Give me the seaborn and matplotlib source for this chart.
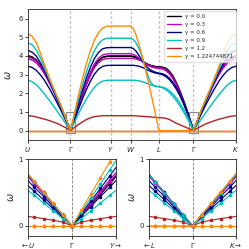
import numpy as np
import pandas as pd
import seaborn as sns
import matplotlib
matplotlib.use("Agg")
import matplotlib.pyplot as plt
from matplotlib.patches import Rectangle
from matplotlib.lines import Line2D

# gamma values and colours
gammas = ["0.0", "0.3", "0.6", "0.9", "1.2", "1.224744871"]
colors = ["black", "m", "navy", "c", "firebrick", "darkorange"]
# two bands per gamma: (a, b)
band_gamma = [0, 0, 1, 1, 2, 2, 3, 3, 4, 4, 5, 5]

path_labels = ["$U$", r"$\Gamma$", "$Y$", "$W$", "$L$", r"$\Gamma$", "$K$"]
seg_len = [1.061, 1.0, 0.5, 0.707, 0.866, 1.061]

# omega at t = 0, 0.1, ..., 1 along each segment (one row per band)
seg_UG = [
    [4.02, 3.95, 3.78, 3.48, 3.12, 2.68, 2.2, 1.7, 1.16, 0.58, 0],
    [3.97, 3.9, 3.74, 3.45, 3.08, 2.65, 2.17, 1.68, 1.15, 0.58, 0],
    [3.95, 3.88, 3.72, 3.43, 3.06, 2.63, 2.16, 1.66, 1.14, 0.57, 0],
    [3.85, 3.78, 3.62, 3.35, 2.99, 2.57, 2.1, 1.62, 1.11, 0.56, 0],
    [4.3, 4.2, 3.98, 3.6, 3.15, 2.65, 2.15, 1.62, 1.1, 0.55, 0],
    [3.45, 3.38, 3.22, 2.97, 2.65, 2.27, 1.86, 1.43, 0.98, 0.49, 0],
    [4.7, 4.6, 4.3, 3.85, 3.3, 2.75, 2.22, 1.7, 1.17, 0.59, 0],
    [2.7, 2.62, 2.45, 2.2, 1.93, 1.63, 1.32, 1.0, 0.68, 0.34, 0],
    [0.8, 0.78, 0.73, 0.67, 0.61, 0.54, 0.46, 0.37, 0.26, 0.14, 0],
    [0, 0, 0, 0, 0, 0, 0, 0, 0, 0, 0],
    [5.2, 5.05, 4.7, 4.1, 3.45, 2.85, 2.3, 1.75, 1.2, 0.6, 0],
    [0, 0, 0, 0, 0, 0, 0, 0, 0, 0, 0],
]
seg_GY = [
    [0, 0.65, 1.3, 1.93, 2.52, 3.04, 3.47, 3.76, 3.93, 3.99, 4.0],
    [0, 0.64, 1.28, 1.91, 2.5, 3.02, 3.45, 3.74, 3.91, 3.97, 3.98],
    [0, 0.68, 1.36, 2.02, 2.62, 3.15, 3.58, 3.88, 4.05, 4.11, 4.12],
    [0, 0.67, 1.32, 1.93, 2.49, 2.98, 3.38, 3.65, 3.8, 3.86, 3.87],
    [0, 0.74, 1.47, 2.18, 2.83, 3.4, 3.87, 4.19, 4.38, 4.44, 4.45],
    [0, 0.58, 1.15, 1.7, 2.21, 2.66, 3.03, 3.29, 3.44, 3.49, 3.5],
    [0, 0.83, 1.65, 2.45, 3.15, 3.78, 4.3, 4.65, 4.86, 4.94, 4.95],
    [0, 0.46, 0.9, 1.32, 1.7, 2.04, 2.33, 2.53, 2.65, 2.69, 2.7],
    [0, 0.17, 0.33, 0.47, 0.6, 0.69, 0.75, 0.78, 0.8, 0.8, 0.8],
    [0, 0, 0, 0, 0, 0, 0, 0, 0, 0, 0],
    [0, 0.95, 1.9, 2.8, 3.6, 4.3, 4.85, 5.25, 5.48, 5.58, 5.6],
    [0, 0, 0, 0, 0, 0, 0, 0, 0, 0, 0],
]
seg_WL = [
    [4.0, 3.98, 3.93, 3.85, 3.75, 3.65, 3.56, 3.5, 3.46, 3.43, 3.42],
    [3.98, 3.96, 3.91, 3.83, 3.74, 3.64, 3.55, 3.49, 3.45, 3.42, 3.41],
    [4.12, 4.08, 4.0, 3.88, 3.75, 3.62, 3.52, 3.45, 3.41, 3.39, 3.38],
    [3.87, 3.86, 3.83, 3.78, 3.72, 3.63, 3.52, 3.44, 3.38, 3.35, 3.33],
    [4.45, 4.4, 4.25, 4.02, 3.78, 3.55, 3.38, 3.26, 3.18, 3.12, 3.08],
    [3.5, 3.5, 3.48, 3.45, 3.4, 3.33, 3.25, 3.18, 3.12, 3.08, 3.05],
    [4.95, 4.88, 4.68, 4.4, 4.0, 3.5, 3.0, 2.6, 2.45, 2.39, 2.35],
    [2.7, 2.7, 2.69, 2.67, 2.63, 2.58, 2.52, 2.46, 2.41, 2.37, 2.35],
    [0.8, 0.8, 0.79, 0.78, 0.77, 0.76, 0.75, 0.74, 0.72, 0.71, 0.7],
    [0, 0, 0, 0, 0, 0, 0, 0, 0, 0, 0],
    [5.6, 5.45, 5.1, 4.6, 4.05, 3.45, 2.8, 2.15, 1.45, 0.73, 0],
    [0, 0, 0, 0, 0, 0, 0, 0, 0, 0, 0],
]
seg_LG = [
    [3.42, 3.4, 3.35, 3.2, 2.95, 2.6, 2.18, 1.7, 1.17, 0.6, 0],
    [3.41, 3.39, 3.31, 3.13, 2.85, 2.5, 2.08, 1.62, 1.12, 0.57, 0],
    [3.38, 3.35, 3.27, 3.1, 2.85, 2.5, 2.08, 1.62, 1.12, 0.57, 0],
    [3.33, 3.3, 3.22, 3.05, 2.8, 2.46, 2.05, 1.6, 1.1, 0.56, 0],
    [3.08, 3.05, 2.97, 2.82, 2.6, 2.32, 1.98, 1.58, 1.1, 0.56, 0],
    [3.05, 3.0, 2.9, 2.74, 2.52, 2.24, 1.9, 1.5, 1.03, 0.5, 0],
    [2.35, 2.33, 2.27, 2.15, 1.98, 1.76, 1.5, 1.2, 0.86, 0.46, 0],
    [2.35, 2.3, 2.2, 2.05, 1.85, 1.62, 1.35, 1.05, 0.72, 0.37, 0],
    [0.7, 0.69, 0.66, 0.6, 0.5, 0.4, 0.32, 0.24, 0.16, 0.08, 0],
    [0, 0, 0, 0, 0, 0, 0, 0, 0, 0, 0],
    [0, 0, 0, 0, 0, 0, 0, 0, 0, 0, 0],
    [0, 0, 0, 0, 0, 0, 0, 0, 0, 0, 0],
]
# Gamma -> K is the mirror of U -> Gamma
seg_GK = [row[::-1] for row in seg_UG]

# zoom near Gamma: omega at steps 1..5 away from Gamma
zl_left = [  # towards U
    [0.17, 0.33, 0.5, 0.66, 0.83],
    [0.16, 0.33, 0.49, 0.65, 0.82],
    [0.16, 0.33, 0.49, 0.65, 0.82],
    [0.16, 0.32, 0.47, 0.63, 0.79],
    [0.15, 0.29, 0.44, 0.58, 0.73],
    [0.13, 0.26, 0.39, 0.52, 0.65],
    [0.16, 0.33, 0.49, 0.66, 0.82],
    [0.11, 0.23, 0.34, 0.46, 0.57],
    [0.06, 0.085, 0.11, 0.13, 0.15],
    [0, 0, 0, 0, 0],
    [0.17, 0.34, 0.5, 0.67, 0.84],
    [0, 0, 0, 0, 0],
]
zl_right = [  # towards Y
    [0.16, 0.32, 0.48, 0.64, 0.8],
    [0.16, 0.32, 0.47, 0.63, 0.79],
    [0.17, 0.34, 0.52, 0.69, 0.86],
    [0.17, 0.33, 0.5, 0.66, 0.83],
    [0.19, 0.37, 0.56, 0.75, 0.94],
    [0.15, 0.29, 0.44, 0.58, 0.73],
    [0.21, 0.42, 0.63, 0.84, 1.05],
    [0.11, 0.23, 0.34, 0.46, 0.57],
    [0.06, 0.085, 0.11, 0.13, 0.15],
    [0, 0, 0, 0, 0],
    [0.24, 0.48, 0.72, 0.96, 1.2],
    [0, 0, 0, 0, 0],
]
zr_left = [  # towards L
    [0.17, 0.33, 0.5, 0.66, 0.83],
    [0.16, 0.33, 0.49, 0.66, 0.82],
    [0.16, 0.33, 0.49, 0.65, 0.82],
    [0.16, 0.32, 0.48, 0.64, 0.8],
    [0.15, 0.29, 0.44, 0.58, 0.73],
    [0.13, 0.26, 0.39, 0.52, 0.65],
    [0.16, 0.33, 0.49, 0.66, 0.82],
    [0.11, 0.23, 0.34, 0.46, 0.57],
    [0.06, 0.085, 0.11, 0.13, 0.15],
    [0, 0, 0, 0, 0],
    [0, 0, 0, 0, 0],
    [0, 0, 0, 0, 0],
]
zr_right = zl_left  # towards K, same as towards U

labels = ["γ = " + g for g in gammas]
palette = dict(zip(labels, colors))

# build long table for the full path
nodes = np.concatenate([[0], np.cumsum(seg_len)])
t = np.linspace(0, 1, 11)
rows = []
for b in range(len(band_gamma)):
    segs = [seg_UG[b], seg_GY[b], [seg_GY[b][-1], seg_WL[b][0]], seg_WL[b], seg_LG[b], seg_GK[b]]
    for s, vals in enumerate(segs):
        tt = t if len(vals) == 11 else np.array([0, 1])
        for ti, v in zip(tt, vals):
            rows.append((nodes[s] + ti * seg_len[s], v, labels[band_gamma[b]], b))
df = pd.DataFrame(rows, columns=["k", "omega", "gamma", "band"])

def zoom_frame(left, right):
    out = []
    for b in range(len(band_gamma)):
        vals = list(left[b][::-1]) + [0] + list(right[b])
        for k, v in zip(range(-5, 6), vals):
            out.append((k, v, labels[band_gamma[b]], b))
    return pd.DataFrame(out, columns=["k", "omega", "gamma", "band"])

dfl = zoom_frame(zl_left, zl_right)
dfr = zoom_frame(zr_left, zr_right)

sns.set_style("ticks")
plt.rcParams["font.family"] = ["DejaVu Sans"]
plt.rcParams["xtick.labelsize"] = 5
plt.rcParams["ytick.labelsize"] = 5
plt.rcParams["xtick.major.size"] = 2
plt.rcParams["ytick.major.size"] = 2
plt.rcParams["xtick.major.width"] = 0.6
plt.rcParams["ytick.major.width"] = 0.6
plt.rcParams["xtick.major.pad"] = 1.5
plt.rcParams["ytick.major.pad"] = 1.5
plt.rcParams["axes.linewidth"] = 0.6

fig = plt.figure(figsize=(2.49, 2.49), dpi=100)
ax = fig.add_axes([0.1124, 0.4378, 0.8353, 0.5249])
axl = fig.add_axes([0.1124, 0.0522, 0.3534, 0.3092])
axr = fig.add_axes([0.5984, 0.0522, 0.3494, 0.3092])

zoom_half = 0.11
zoom_ylim = (-0.15, 1.0)

for x in nodes[1:-1]:
    ax.axvline(x, color="#c4c4c4", ls=(0, (2, 1.5)), lw=1.0, zorder=0)
for x in [nodes[1], nodes[5]]:
    ax.add_patch(Rectangle((x - zoom_half, zoom_ylim[0]), 2 * zoom_half, zoom_ylim[1] - zoom_ylim[0],
                           fill=False, edgecolor="#888888", lw=0.8, zorder=1))

sns.lineplot(data=df, x="k", y="omega", hue="gamma", units="band", estimator=None,
             sort=False, palette=palette, lw=1.0, legend=False, ax=ax)
ax.set_xlim(0, nodes[-1])
ax.set_ylim(-0.5, 6.5)
ax.set_xticks(nodes)
ax.set_xticklabels(path_labels)
ax.set_yticks(range(7))
ax.set_xlabel("")
ax.set_ylabel(r"$\omega$", fontsize=7, labelpad=4)

handles = [Line2D([], [], color=c, lw=1.0) for c in colors]
ax.legend(handles, labels, loc="upper right", bbox_to_anchor=(1.015, 1.01), fontsize=4,
          handlelength=2.6, labelspacing=0.55, borderpad=0.5, framealpha=0.8,
          edgecolor="#dddddd", fancybox=True)

for a, d, ticklabs in [(axl, dfl, [r"$\leftarrow U$", r"$\Gamma$", r"$Y \rightarrow$"]),
                       (axr, dfr, [r"$\leftarrow L$", r"$\Gamma$", r"$K \rightarrow$"])]:
    a.axvline(0, color="gray", ls="--", lw=0.6, zorder=0)
    sns.lineplot(data=d, x="k", y="omega", hue="gamma", units="band", estimator=None,
                 sort=False, palette=palette, lw=0.8, marker="o", markersize=2.6,
                 markeredgewidth=0, legend=False, ax=a)
    a.set_xlim(-4.65, 4.65)
    a.set_ylim(*zoom_ylim)
    a.set_xticks([-4.65, 0, 4.65])
    a.set_xticklabels(ticklabs)
    a.set_yticks([0, 1])
    a.set_xlabel("")
    a.set_ylabel(r"$\omega$", fontsize=7, labelpad=2)

fig.savefig("out.png", dpi=100)
